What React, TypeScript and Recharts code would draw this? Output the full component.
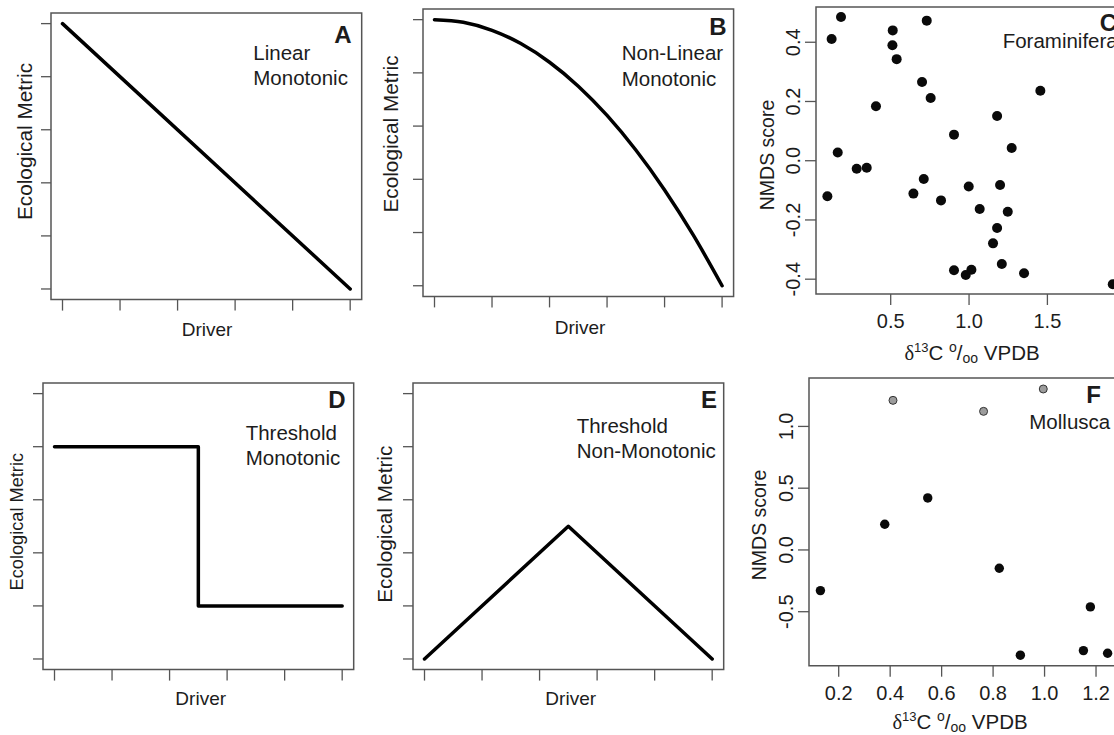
import React from 'react';
import { LineChart, Line, ScatterChart, Scatter, XAxis, YAxis, ReferenceArea } from 'recharts';

// conceptual panels (A, B, D, E)
const driverTicks = [0, 1, 2, 3, 4, 5];
const metricTicks = [0, 1, 2, 3, 4, 5];
const linearX = [0, 5];
const linearY = [5, 0];
const curveX = [0, 0.5, 1, 1.5, 2, 2.5, 3, 3.5, 4, 4.5, 5];
const curveY = [5, 4.95, 4.8, 4.55, 4.2, 3.75, 3.2, 2.55, 1.8, 0.95, 0];
const stepX = [0, 2.5, 5];
const stepY = [4, 1, 1];
const peakX = [0, 2.5, 5];
const peakY = [0, 2.5, 0];

// C: Foraminifera
const foramX = [0.096, 0.123, 0.183, 0.162, 0.283, 0.347, 0.406, 0.513, 0.511, 0.538, 0.73, 0.7, 0.755, 0.711, 0.645, 0.821,
  0.904, 0.998, 1.068, 1.179, 1.198, 1.272, 1.247, 1.179, 1.153, 1.209, 1.351, 0.904, 0.979, 1.015, 1.455, 1.917];
const foramY = [-0.12, 0.411, 0.485, 0.028, -0.027, -0.024, 0.184, 0.44, 0.39, 0.343, 0.473, 0.266, 0.212, -0.062, -0.111, -0.134,
  0.088, -0.087, -0.163, 0.151, -0.082, 0.043, -0.172, -0.227, -0.279, -0.349, -0.38, -0.37, -0.386, -0.368, 0.236, -0.417];
const foramXTicks = [0.5, 1.0, 1.5];
const foramYTicks = [-0.4, -0.2, 0, 0.2, 0.4];

// F: Mollusca
const molluscX = [0.129, 0.379, 0.546, 0.824, 0.906, 1.151, 1.178, 1.245];
const molluscY = [-0.329, 0.208, 0.421, -0.148, -0.852, -0.815, -0.461, -0.836];
const molluscGreyX = [0.411, 0.763, 0.995];
const molluscGreyY = [1.211, 1.122, 1.303];
const molluscXTicks = [0.2, 0.4, 0.6, 0.8, 1.0, 1.2];
const molluscYTicks = [-0.5, 0, 0.5, 1.0];

const FONT = '"Liberation Sans", Arial, Helvetica, sans-serif';
const INK = '#1c1c1c';
const FRAME = '#555';
const YW = 70, XH = 70, TM = 12, RM = 12;

const pts = (xs: number[], ys: number[]) => xs.map((x, i) => ({ x, y: ys[i] }));

const NoTick = () => <g />;

const BottomTick = (props: any) => {
  const { x, y, payload } = props;
  return (
    <text x={x} y={y} dy="0.71em" textAnchor="middle" fontSize={20} fill={INK} fontFamily={FONT}>
      {Number(payload.value).toFixed(1)}
    </text>
  );
};

const LeftTick = (props: any) => {
  const { x, y, payload } = props;
  return (
    <text x={x} y={y} transform={`rotate(-90 ${x} ${y})`} textAnchor="middle" fontSize={20} fill={INK} fontFamily={FONT}>
      {Number(payload.value).toFixed(1)}
    </text>
  );
};

type Box = { l: number; t: number; w: number; h: number };

const Place: React.FC<{ box: Box; children: React.ReactNode }> = ({ box, children }) => (
  <div style={{ position: 'absolute', left: box.l - YW, top: box.t - TM }}>{children}</div>
);

const tickLineStyle = { stroke: FRAME, strokeWidth: 1.3 };

const ConceptPanel: React.FC<{ box: Box; data: { x: number; y: number }[]; curve: any }> = ({ box, data, curve }) => (
  <Place box={box}>
    <LineChart width={YW + box.w + RM} height={TM + box.h + XH} data={data} margin={{ top: TM, right: RM, left: 0, bottom: 0 }}>
      <XAxis dataKey="x" type="number" domain={[-0.2, 5.2]} allowDataOverflow ticks={driverTicks} interval={0}
        height={XH} axisLine={false} tickLine={tickLineStyle} tickSize={11} tick={NoTick} />
      <YAxis dataKey="y" type="number" domain={[-0.2, 5.2]} allowDataOverflow ticks={metricTicks} interval={0}
        width={YW} axisLine={false} tickLine={tickLineStyle} tickSize={10} tick={NoTick} />
      <ReferenceArea x1={-0.2} x2={5.2} y1={-0.2} y2={5.2} fill="none" stroke={FRAME} strokeWidth={1.5} ifOverflow="visible" />
      <Line dataKey="y" type={curve} stroke="#000" strokeWidth={3.5} dot={false} strokeLinecap="round" strokeLinejoin="round" isAnimationActive={false} />
    </LineChart>
  </Place>
);

const ScatterPanel: React.FC<{
  box: Box; xDom: number[]; yDom: number[]; xTicks: number[]; yTicks: number[]; children: React.ReactNode;
}> = ({ box, xDom, yDom, xTicks, yTicks, children }) => (
  <Place box={box}>
    <ScatterChart width={YW + box.w + RM} height={TM + box.h + XH} margin={{ top: TM, right: RM, left: 0, bottom: 0 }}>
      <XAxis dataKey="x" type="number" domain={xDom} allowDataOverflow ticks={xTicks} interval={0}
        height={XH} axisLine={false} tickLine={tickLineStyle} tickSize={11} tickMargin={9} tick={BottomTick} />
      <YAxis dataKey="y" type="number" domain={yDom} allowDataOverflow ticks={yTicks} interval={0}
        width={YW} axisLine={false} tickLine={tickLineStyle} tickSize={11} tickMargin={5} tick={LeftTick} />
      <ReferenceArea x1={xDom[0]} x2={xDom[1]} y1={yDom[0]} y2={yDom[1]} fill="none" stroke={FRAME} strokeWidth={1.5} ifOverflow="visible" />
      {children}
    </ScatterChart>
  </Place>
);

const blackDot = (r: number) => (p: any) => <circle cx={p.cx} cy={p.cy} r={r} fill="#0a0a0a" />;
const greyDot = (p: any) => <circle cx={p.cx} cy={p.cy} r={4} fill="#9c9c9c" stroke="#333" strokeWidth={1} />;

const boxA: Box = { l: 51, t: 12.7, w: 310.7, h: 286.6 };
const boxB: Box = { l: 422.7, t: 9.3, w: 310.6, h: 287.4 };
const boxC: Box = { l: 816, t: 7.3, w: 308.2, h: 287 };
const boxD: Box = { l: 43.3, t: 382.7, w: 310.7, h: 286.6 };
const boxE: Box = { l: 413.3, t: 382.7, w: 310.7, h: 286.6 };
const boxF: Box = { l: 809, t: 378.3, w: 310.2, h: 287.7 };

const T: React.FC<{ x: number; y: number; size?: number; anchor?: string; bold?: boolean; children: React.ReactNode }> =
  ({ x, y, size = 20.5, anchor = 'start', bold, children }) => (
    <text x={x} y={y} fontSize={size} textAnchor={anchor as any} fontWeight={bold ? 'bold' : 'normal'} fill={INK} fontFamily={FONT}>
      {children}
    </text>
  );

const VT: React.FC<{ x: number; y: number; size?: number; children: React.ReactNode }> = ({ x, y, size = 20.8, children }) => (
  <text x={x} y={y} transform={`rotate(-90 ${x} ${y})`} fontSize={size} textAnchor="middle" fill={INK} fontFamily={FONT}>
    {children}
  </text>
);

const DeltaLabel: React.FC<{ x: number; y: number }> = ({ x, y }) => (
  <text x={x} y={y} fontSize={20.5} textAnchor="middle" fill={INK} fontFamily={FONT}>
    <tspan fontFamily='"Liberation Serif", "DejaVu Serif", serif'>δ</tspan>
    <tspan dy={-8} fontSize={13}>13</tspan>
    <tspan dy={8}>C </tspan>
    <tspan dy={-8} fontSize={14}>o</tspan>
    <tspan dy={8}>/</tspan>
    <tspan dy={3} fontSize={14}>oo</tspan>
    <tspan dy={-3}> VPDB</tspan>
  </text>
);

export default function App() {
  return (
    <div style={{ position: 'absolute', left: 0, top: 0, width: 1114, height: 735, overflow: 'hidden', background: '#fff' }}>
      <ConceptPanel box={boxA} data={pts(linearX, linearY)} curve="linear" />
      <ConceptPanel box={boxB} data={pts(curveX, curveY)} curve="monotone" />
      <ConceptPanel box={boxD} data={pts(stepX, stepY)} curve="stepAfter" />
      <ConceptPanel box={boxE} data={pts(peakX, peakY)} curve="linear" />

      <ScatterPanel box={boxC} xDom={[0.0233, 1.99]} yDom={[-0.45, 0.519]} xTicks={foramXTicks} yTicks={foramYTicks}>
        <Scatter data={pts(foramX, foramY)} shape={blackDot(5)} isAnimationActive={false} />
      </ScatterPanel>
      <ScatterPanel box={boxF} xDom={[0.0846, 1.29]} yDom={[-0.937, 1.392]} xTicks={molluscXTicks} yTicks={molluscYTicks}>
        <Scatter data={pts(molluscX, molluscY)} shape={blackDot(4.7)} isAnimationActive={false} />
        <Scatter data={pts(molluscGreyX, molluscGreyY)} shape={greyDot} isAnimationActive={false} />
      </ScatterPanel>

      <svg width={1114} height={735} style={{ position: 'absolute', left: 0, top: 0, pointerEvents: 'none' }}>
        {/* A */}
        <T x={351.7} y={42.7} size={24} anchor="end" bold>A</T>
        <T x={253.3} y={60}>Linear</T>
        <T x={253.3} y={85}>Monotonic</T>
        <T x={207} y={336} size={19} anchor="middle">Driver</T>
        <VT x={31.7} y={141.5}>Ecological Metric</VT>
        {/* B */}
        <T x={726.7} y={35} size={24} anchor="end" bold>B</T>
        <T x={621.7} y={60}>Non-Linear</T>
        <T x={621.7} y={85.5}>Monotonic</T>
        <T x={580} y={333.5} size={19} anchor="middle">Driver</T>
        <VT x={398.3} y={134}>Ecological Metric</VT>
        {/* C */}
        <T x={1117} y={31} size={24} anchor="end" bold>C</T>
        <T x={1002.7} y={47.5}>Foraminifera</T>
        <DeltaLabel x={972} y={360} />
        <VT x={774} y={155} size={19.5}>NMDS score</VT>
        {/* D */}
        <T x={345.5} y={408.3} size={24} anchor="end" bold>D</T>
        <T x={245.7} y={440}>Threshold</T>
        <T x={245.7} y={465}>Monotonic</T>
        <T x={200.7} y={705} size={19} anchor="middle">Driver</T>
        <VT x={23} y={521.7} size={18.2}>Ecological Metric</VT>
        {/* E */}
        <T x={717} y={408.3} size={24} anchor="end" bold>E</T>
        <T x={576.7} y={433.3}>Threshold</T>
        <T x={576.7} y={458.3}>Non-Monotonic</T>
        <T x={570.7} y={705} size={19} anchor="middle">Driver</T>
        <VT x={391.7} y={524.2}>Ecological Metric</VT>
        {/* F */}
        <T x={1101} y={403.3} size={24} anchor="end" bold>F</T>
        <T x={1029.3} y={429}>Mollusca</T>
        <DeltaLabel x={960} y={728.5} />
        <VT x={765.7} y={525} size={19.5}>NMDS score</VT>
      </svg>
    </div>
  );
}
